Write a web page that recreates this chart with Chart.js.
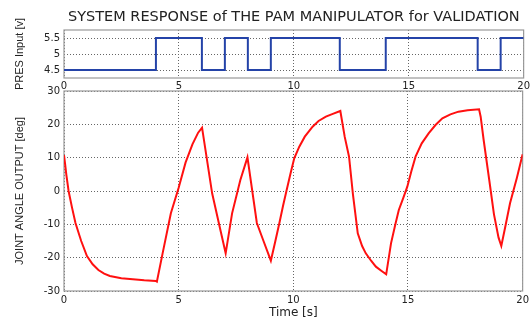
<!DOCTYPE html>
<html>
<head>
<meta charset="utf-8">
<script src="https://cdn.jsdelivr.net/npm/chart.js@4"></script>
<style>
  body { margin: 0; background: #fff; }
  #wrap { position: relative; width: 532px; height: 320px; }
  canvas { position: absolute; left: 0; top: 0; }
</style>
</head>
<body>
<div id="wrap">
  <canvas id="anglechart" width="532" height="320"></canvas>
  <canvas id="presschart" width="532" height="100"></canvas>
</div>
<script>
// pressure input steps (value holds from that time on)
const stepTimes = [0, 4, 6, 7, 8, 9, 12, 14, 18, 19, 20];
const pressure = [4.5, 5.5, 4.5, 5.5, 4.5, 5.5, 4.5, 5.5, 4.5, 5.5, 5.5];

// measured joint angle
const time = [0, 0.05, 0.1, 0.2, 0.35, 0.5, 0.75, 1.0, 1.25, 1.5, 1.75, 2.0, 2.5, 3.0, 3.5, 4.0, 4.05,
  4.3, 4.66, 5.0, 5.3, 5.6, 5.85, 6.02, 6.46, 6.82, 7.05, 7.33, 7.69, 8.0, 8.41, 8.7, 9.02,
  9.2, 9.39, 9.55, 9.7, 9.87, 10.04, 10.26, 10.5, 10.84, 11.1, 11.42, 11.75, 12.05,
  12.24, 12.43, 12.6, 12.81, 13.0, 13.16, 13.4, 13.6, 13.85, 14.05,
  14.26, 14.45, 14.6, 14.8, 14.97, 15.15, 15.33, 15.6, 15.9, 16.2, 16.5, 16.85, 17.2, 17.6, 18.1,
  18.17, 18.3, 18.55, 18.75, 18.95, 19.07, 19.25, 19.45, 19.75, 20];
const angle = [10.8, 8, 5, 0, -5, -9.6, -15, -19.5, -22, -23.7, -24.8, -25.5, -26.2, -26.5, -26.8, -27, -27.2,
  -18.7, -6.7, 1, 8.5, 14, 17.5, 19, -0.7, -11.7, -18.7, -6.7, 3.3, 10.1, -9.6, -15, -20.9,
  -15.5, -9.7, -4.5, 0, 5, 9.8, 13.3, 16.3, 19.3, 21, 22.3, 23.2, 24,
  16.3, 10.3, -1, -12.7, -16.5, -18.7, -21, -22.7, -24, -25,
  -15.7, -10, -5.7, -2, 1.3, 6, 10.3, 14.3, 17.3, 19.8, 21.8, 23, 23.8, 24.2, 24.5,
  22.3, 15.3, 3, -7, -14, -16.5, -10.5, -3.7, 4, 11];

const xTicks = [0, 5, 10, 15, 20];
const pressTicks = [4.5, 5, 5.5];
const angleTicks = [-30, -20, -10, 0, 10, 20, 30];

Chart.defaults.font.family = "'DejaVu Sans', sans-serif";
Chart.defaults.font.size = 10;
Chart.defaults.color = "#222";
Chart.defaults.animation = false;

// gray frame around the plot area
const frame = {
  id: "frame",
  beforeDatasetsDraw(chart) {
    const a = chart.chartArea;
    const ctx = chart.ctx;
    ctx.save();
    ctx.strokeStyle = "#999";
    ctx.lineWidth = 1.2;
    ctx.strokeRect(a.left, a.top, a.right - a.left, a.bottom - a.top);
    ctx.restore();
  }
};

const dotted = {
  color: "#666",
  lineWidth: 1,
  drawTicks: false
};

function xScale(height, pad, title) {
  return {
    type: "linear",
    min: 0,
    max: 20,
    afterBuildTicks: s => { s.ticks = xTicks.map(v => ({ value: v })); },
    afterFit: s => { s.height = height; },
    ticks: { padding: pad, maxRotation: 0, callback: v => String(v) },
    grid: dotted,
    border: { display: false, dash: [1, 2] },
    title: title
  };
}

function yScale(min, max, list, text) {
  return {
    min: min,
    max: max,
    afterBuildTicks: s => { s.ticks = list.map(v => ({ value: v })); },
    afterFit: s => { s.width = 64; },
    ticks: { padding: 4, callback: v => String(v) },
    grid: Object.assign({}, dotted),
    border: { display: false, dash: [1, 2] },
    title: {
      display: true,
      text: text,
      font: { family: "'Liberation Sans', Arial, sans-serif", size: 11 },
      padding: { top: 13.4, bottom: 0 }
    }
  };
}

const press = document.getElementById("presschart");

new Chart(press, {
  type: "line",
  data: {
    datasets: [{
      data: stepTimes.map((t, i) => ({ x: t, y: pressure[i] })),
      borderColor: "#2443a8",
      borderWidth: 2,
      pointRadius: 0,
      stepped: true
    }]
  },
  options: {
    responsive: false,
    layout: { padding: { top: 0, right: 6, left: 0, bottom: 0 } },
    plugins: {
      legend: { display: false },
      tooltip: { enabled: false },
      title: {
        display: true,
        fullSize: false,
        text: "SYSTEM RESPONSE of THE PAM MANIPULATOR for VALIDATION",
        font: { size: 14.5, weight: "normal" },
        color: "#222",
        padding: { top: 8.3, bottom: 4.3 }
      }
    },
    scales: {
      x: xScale(22, 2, { display: false }),
      y: yScale(4.25, 5.75, pressTicks, "PRES Input [v]")
    }
  },
  plugins: [frame]
});

const ang = document.getElementById("anglechart");

new Chart(ang, {
  type: "line",
  data: {
    datasets: [{
      data: time.map((t, i) => ({ x: t, y: angle[i] })),
      borderColor: "#ff1010",
      borderWidth: 2,
      pointRadius: 0,
      tension: 0
    }]
  },
  options: {
    responsive: false,
    layout: { padding: { top: 91, right: 6, left: 0, bottom: 0 } },
    plugins: {
      legend: { display: false },
      tooltip: { enabled: false }
    },
    scales: {
      x: xScale(29, 3, {
        display: true,
        text: "Time [s]",
        font: { size: 12 },
        padding: { top: 0, bottom: 0 }
      }),
      y: yScale(-30, 30, angleTicks, "JOINT ANGLE OUTPUT [deg]")
    }
  },
  plugins: [frame]
});
</script>
</body>
</html>
